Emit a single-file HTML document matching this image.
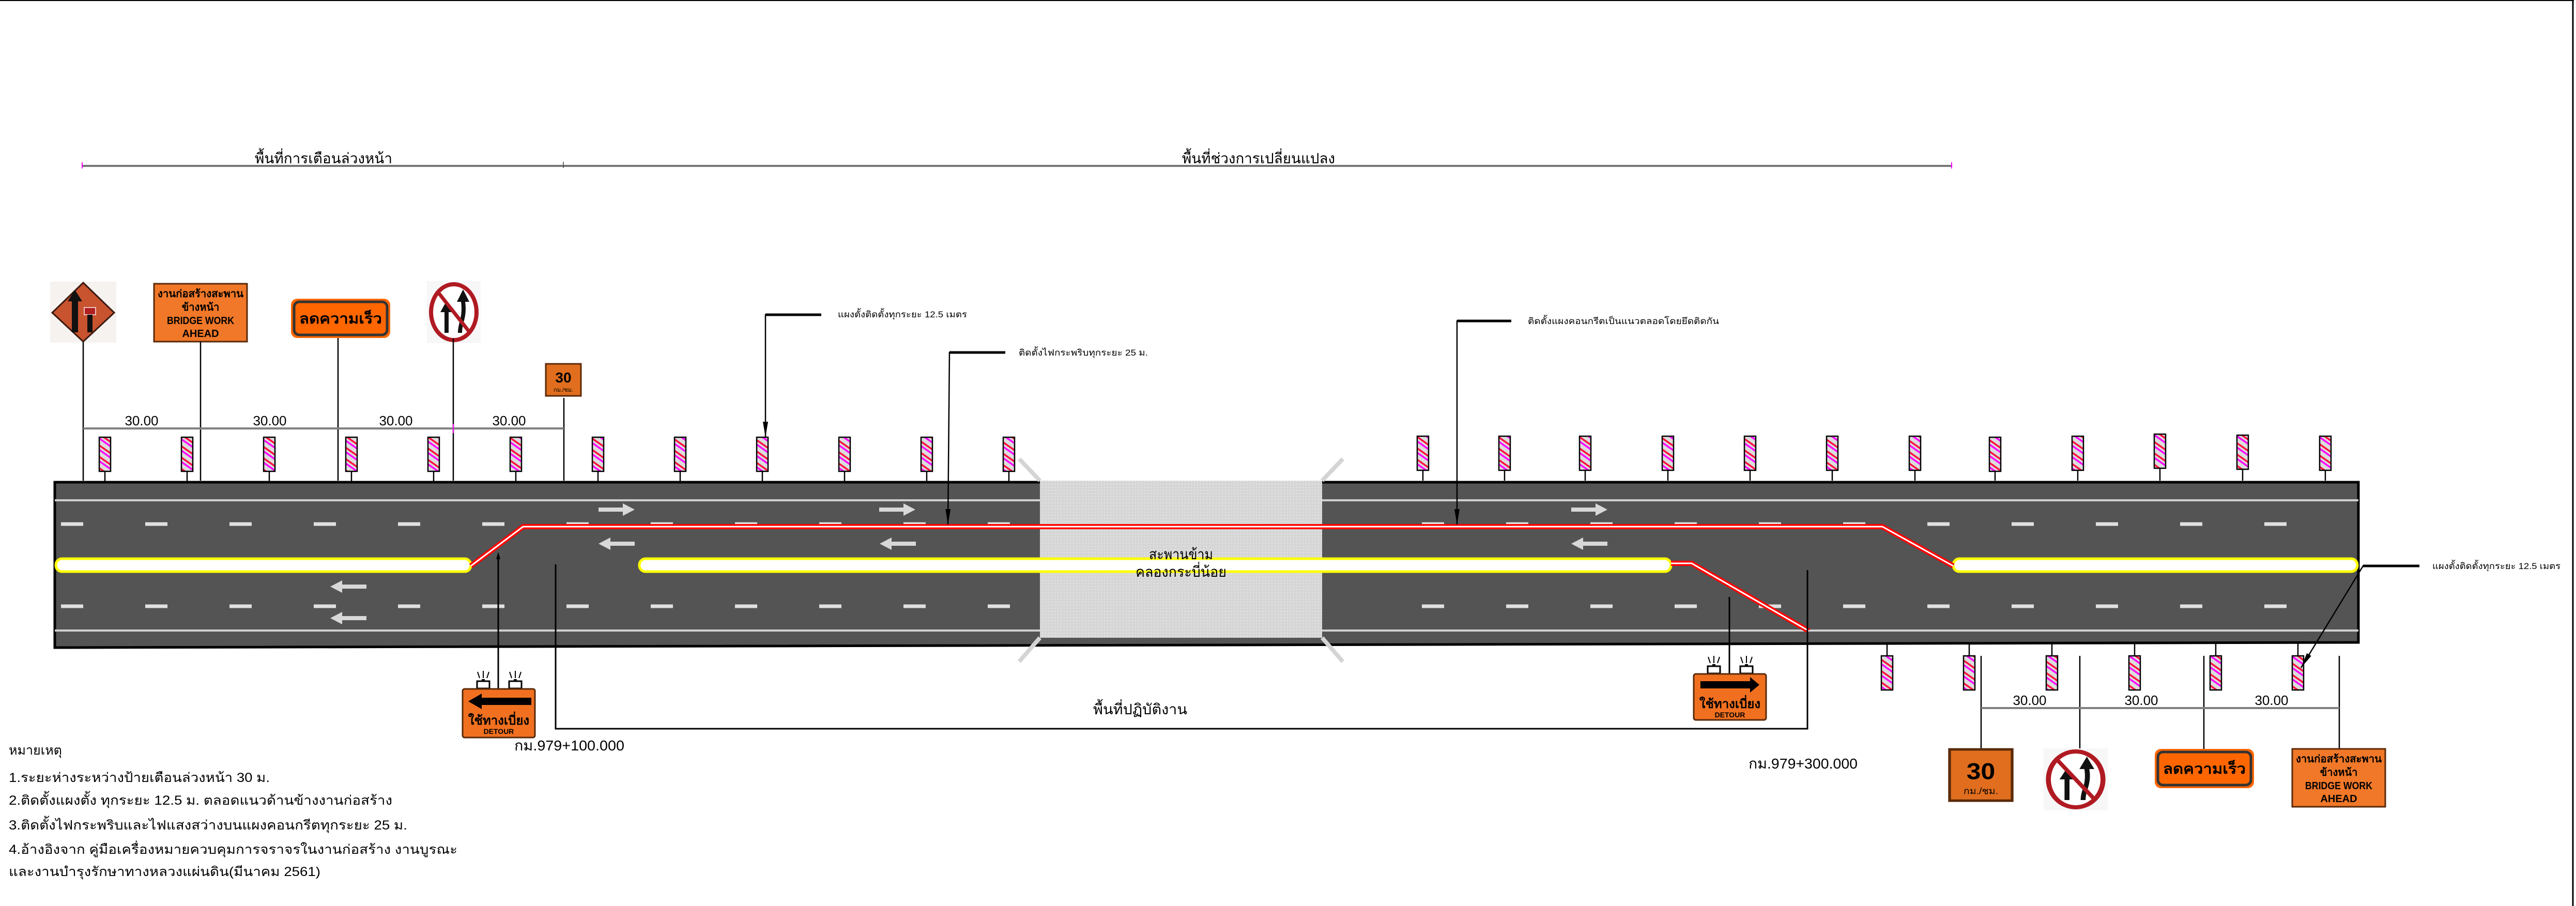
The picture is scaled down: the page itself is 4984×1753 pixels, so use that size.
<!DOCTYPE html>
<html><head><meta charset="utf-8"><style>
html,body{margin:0;padding:0;background:#fff;}
svg{display:block;}
text{font-family:"Liberation Sans","Noto Sans CJK SC",sans-serif;}
</style></head><body>
<svg width="4984" height="1753" viewBox="0 0 4984 1753" xmlns="http://www.w3.org/2000/svg">
<defs>
<pattern id="st" width="18" height="18" patternUnits="userSpaceOnUse" patternTransform="rotate(35)">
<rect width="18" height="18" fill="#dcdcdc"/>
<rect x="0" y="0" width="18" height="3.5" fill="#ff1040"/>
<rect x="0" y="7" width="18" height="3.5" fill="#ff00ff"/>
</pattern>
<pattern id="dots" width="6" height="6" patternUnits="userSpaceOnUse">
<rect width="6" height="6" fill="#d6d6d6"/>
<rect width="2" height="2" fill="#e6e6e6"/>
</pattern>
<marker id="ah" markerWidth="32" markerHeight="10" refX="30" refY="5" orient="auto" markerUnits="userSpaceOnUse">
<path d="M0,0 L30,5 L0,10 Z" fill="#000"/>
</marker>
<g id="diamond">
<rect x="-64" y="-58" width="128" height="118" fill="#f6f2f0"/>
<polygon points="0,-56 60,2 0,58 -60,2" fill="#c8532f" stroke="#3a1a10" stroke-width="3"/>
<path d="M-22,40 L-22,-20 L-30,-20 L-16,-42 L-2,-20 L-10,-20 L-10,40 Z" fill="#111"/>
<rect x="2" y="-8" width="22" height="14" fill="#b02020" stroke="#f0c0c0" stroke-width="2"/>
<rect x="8" y="6" width="10" height="34" fill="#111"/>
</g>
<g id="bridge">
<rect x="0" y="0" width="180" height="112" fill="#f07828" stroke="#5a2a0a" stroke-width="3"/>
<text x="90" y="26" font-size="20" text-anchor="middle" font-weight="bold" textLength="166" lengthAdjust="spacingAndGlyphs">งานก่อสร้างสะพาน</text>
<text x="90" y="52" font-size="20" text-anchor="middle" font-weight="bold">ข้างหน้า</text>
<text x="90" y="78" font-size="20" text-anchor="middle" font-weight="bold" textLength="130" lengthAdjust="spacingAndGlyphs">BRIDGE WORK</text>
<text x="90" y="103" font-size="20" text-anchor="middle" font-weight="bold">AHEAD</text>
</g>
<g id="slow">
<rect x="0" y="0" width="192" height="76" rx="12" fill="#ff6600"/>
<rect x="6" y="6" width="180" height="64" rx="10" fill="#ff6600" stroke="#333" stroke-width="5"/>
<text x="96" y="48" font-size="28" text-anchor="middle" font-weight="bold" textLength="160" lengthAdjust="spacingAndGlyphs">ลดความเร็ว</text>
</g>
<g id="noov">
<rect x="-52" y="-60" width="104" height="120" fill="#f7f7f7"/>
<ellipse cx="0" cy="0" rx="44" ry="54" fill="#fff" stroke="#b01a22" stroke-width="8"/>
<path d="M-18,40 L-18,0 L-26,0 L-14,-22 L-2,0 L-10,0 L-10,40 Z" fill="#111"/>
<path d="M8,40 C8,20 18,10 14,-20 L6,-20 L18,-44 L30,-20 L22,-20 C26,10 16,20 16,40 Z" fill="#111"/>
<line x1="-30" y1="-38" x2="30" y2="38" stroke="#b01a22" stroke-width="7"/>
</g>
<g id="s30">
<rect x="0" y="0" width="68" height="62" fill="#e06e1e" stroke="#5a2a0a" stroke-width="3"/>
<text x="34" y="36" font-size="28" font-weight="bold" text-anchor="middle">30</text>
<text x="34" y="54" font-size="11" text-anchor="middle">กม./ชม.</text>
</g>
<g id="light">
<line x1="-7" y1="-2" x2="-11" y2="-14" stroke="#000" stroke-width="2"/>
<line x1="0" y1="-2" x2="0" y2="-16" stroke="#000" stroke-width="2"/>
<line x1="7" y1="-2" x2="11" y2="-14" stroke="#000" stroke-width="2"/>
<rect x="-3" y="0" width="6" height="4" fill="#000"/>
<rect x="-12" y="4" width="24" height="14" fill="#fff" stroke="#000" stroke-width="3"/>
</g>
</defs>

<!-- frame -->
<line x1="0" y1="1" x2="4980" y2="1" stroke="#000" stroke-width="2"/>
<line x1="4978" y1="0" x2="4978" y2="1753" stroke="#000" stroke-width="3"/>

<!-- header -->
<line x1="159" y1="321" x2="3776" y2="321" stroke="#777" stroke-width="4"/>
<line x1="1090" y1="313" x2="1090" y2="325" stroke="#444" stroke-width="1.5"/>
<line x1="159" y1="314" x2="159" y2="326" stroke="#f0f" stroke-width="2"/>
<line x1="3776" y1="314" x2="3776" y2="326" stroke="#f0f" stroke-width="2"/>
<text x="626" y="316" font-size="28" text-anchor="middle" textLength="266" lengthAdjust="spacingAndGlyphs">พื้นที่การเตือนล่วงหน้า</text>
<text x="2435" y="316" font-size="28" text-anchor="middle" textLength="296" lengthAdjust="spacingAndGlyphs">พื้นที่ช่วงการเปลี่ยนแปลง</text>

<!-- road -->
<polygon points="106,933 4563,933 4563,1243 106,1253" fill="#545454" stroke="#000" stroke-width="5"/>
<line x1="106" y1="968" x2="4563" y2="968" stroke="#d0d0d0" stroke-width="4"/>
<line x1="106" y1="1220" x2="4563" y2="1220" stroke="#d0d0d0" stroke-width="4"/>
<line x1="118" y1="1014" x2="2012" y2="1014" stroke="#e0e0e0" stroke-width="7" stroke-dasharray="43,120"/>
<line x1="118" y1="1173" x2="2012" y2="1173" stroke="#e0e0e0" stroke-width="7" stroke-dasharray="43,120"/>
<line x1="2751" y1="1014" x2="4450" y2="1014" stroke="#e0e0e0" stroke-width="7" stroke-dasharray="43,120"/>
<line x1="2751" y1="1173" x2="4450" y2="1173" stroke="#e0e0e0" stroke-width="7" stroke-dasharray="43,120"/>

<!-- bridge -->
<rect x="2012" y="930" width="546" height="304" fill="url(#dots)"/>
<line x1="2012" y1="930" x2="1972" y2="888" stroke="#d4d4d4" stroke-width="8"/>
<line x1="2558" y1="930" x2="2598" y2="888" stroke="#d4d4d4" stroke-width="8"/>
<line x1="2012" y1="1234" x2="1972" y2="1280" stroke="#d4d4d4" stroke-width="8"/>
<line x1="2558" y1="1234" x2="2598" y2="1280" stroke="#d4d4d4" stroke-width="8"/>

<!-- medians -->
<rect x="108" y="1081" width="803" height="25" rx="12" fill="#fff" stroke="#ffff00" stroke-width="5"/>
<rect x="1237" y="1081" width="1996" height="25" rx="12" fill="#fff" stroke="#ffff00" stroke-width="5"/>
<rect x="3779" y="1081" width="782" height="25" rx="12" fill="#fff" stroke="#ffff00" stroke-width="5"/>

<!-- arrows -->
<g fill="#d8d8d8">
<path d="M1158,982 L1205,982 L1205,974 L1228,986 L1205,998 L1205,990 L1158,990 Z"/>
<path d="M1701,982 L1748,982 L1748,974 L1771,986 L1748,998 L1748,990 L1701,990 Z"/>
<path d="M3040,982 L3087,982 L3087,974 L3110,986 L3087,998 L3087,990 L3040,990 Z"/>
<path d="M1228,1048 L1181,1048 L1181,1040 L1158,1052 L1181,1064 L1181,1056 L1228,1056 Z"/>
<path d="M1772,1048 L1725,1048 L1725,1040 L1702,1052 L1725,1064 L1725,1056 L1772,1056 Z"/>
<path d="M3110,1048 L3063,1048 L3063,1040 L3040,1052 L3063,1064 L3063,1056 L3110,1056 Z"/>
<path d="M709,1131 L662,1131 L662,1123 L639,1135 L662,1147 L662,1139 L709,1139 Z"/>
<path d="M709,1192 L662,1192 L662,1184 L639,1196 L662,1208 L662,1200 L709,1200 Z"/>
</g>

<!-- red lines -->
<g fill="none" stroke-linejoin="miter">
<polyline points="911,1095 1012,1019 3642,1019 3779,1095" stroke="#ff0000" stroke-width="10"/>
<polyline points="911,1095 1012,1019 3642,1019 3779,1095" stroke="#fff" stroke-width="3"/>
<polyline points="3233,1090 3273,1090 3500,1221" stroke="#ff0000" stroke-width="10"/>
<polyline points="3233,1090 3273,1090 3500,1221" stroke="#fff" stroke-width="3"/>
</g>

<text x="2285" y="1082" font-size="28" text-anchor="middle" textLength="124" lengthAdjust="spacingAndGlyphs">สะพานข้าม</text>
<text x="2285" y="1116" font-size="28" text-anchor="middle" textLength="176" lengthAdjust="spacingAndGlyphs">คลองกระบี่น้อย</text>

<!-- barriers -->
<g stroke="#000" stroke-width="2.5" fill="url(#st)">
<rect x="192" y="846" width="22" height="66"/>
<rect x="351" y="846" width="22" height="66"/><rect x="510" y="846" width="22" height="66"/><rect x="669" y="846" width="22" height="66"/>
<rect x="828" y="846" width="22" height="66"/><rect x="987" y="846" width="22" height="66"/><rect x="1146" y="846" width="22" height="66"/>
<rect x="1305" y="846" width="22" height="66"/><rect x="1464" y="846" width="22" height="66"/><rect x="1623" y="846" width="22" height="66"/>
<rect x="1782" y="846" width="22" height="66"/><rect x="1941" y="846" width="22" height="66"/>
<rect x="2742" y="844" width="22" height="66"/><rect x="2900" y="844" width="22" height="66"/><rect x="3056" y="844" width="22" height="66"/>
<rect x="3216" y="844" width="22" height="66"/><rect x="3375" y="844" width="22" height="66"/><rect x="3534" y="844" width="22" height="66"/>
<rect x="3694" y="844" width="22" height="66"/><rect x="3849" y="846" width="22" height="66"/><rect x="4009" y="844" width="22" height="66"/>
<rect x="4168" y="840" width="22" height="66"/><rect x="4328" y="842" width="22" height="66"/><rect x="4488" y="844" width="22" height="66"/>
<rect x="3640" y="1269" width="22" height="66"/><rect x="3799" y="1269" width="22" height="66"/><rect x="3959" y="1269" width="22" height="66"/>
<rect x="4119" y="1269" width="22" height="66"/><rect x="4276" y="1269" width="22" height="66"/><rect x="4435" y="1269" width="22" height="66"/>
</g>
<g stroke="#000" stroke-width="2.5">
<path d="M203,912V931M362,912V931M521,912V931M680,912V931M839,912V931M998,912V931M1157,912V931M1316,912V931M1475,912V931M1634,912V931M1793,912V931M1952,912V931"/>
<path d="M2753,910V930M2911,910V930M3067,910V930M3227,910V930M3386,910V930M3545,910V930M3705,910V930M3860,912V930M4020,910V930M4179,906V930M4339,908V930M4499,910V930"/>
<path d="M3651,1245V1269M3810,1245V1269M3970,1245V1269M4130,1245V1269M4287,1245V1269M4446,1245V1269"/>
</g>

<!-- top signs -->
<use href="#diamond" x="161" y="603"/>
<use href="#bridge" x="298" y="549"/>
<use href="#slow" x="563" y="578"/>
<use href="#noov" x="878" y="604"/>
<use href="#s30" x="1056" y="704"/>
<g stroke="#000" stroke-width="2.5">
<line x1="161" y1="662" x2="161" y2="930"/>
<line x1="388" y1="661" x2="388" y2="930"/>
<line x1="654" y1="654" x2="654" y2="930"/>
<line x1="877" y1="655" x2="877" y2="930"/>
<line x1="1091" y1="770" x2="1091" y2="930"/>
</g>
<line x1="161" y1="829" x2="1091" y2="829" stroke="#808080" stroke-width="4"/>
<line x1="877" y1="820" x2="877" y2="838" stroke="#f0f" stroke-width="2"/>
<g font-size="26" text-anchor="middle">
<text x="274" y="823">30.00</text><text x="522" y="823">30.00</text><text x="766" y="823">30.00</text><text x="985" y="823">30.00</text>
</g>

<!-- callouts -->
<g stroke="#000" stroke-width="2.5" fill="none">
<polyline points="1589,609 1481,609 1481,846" marker-end="url(#ah)"/>
<polyline points="1945,682 1837,682 1834,1015" marker-end="url(#ah)"/>
<polyline points="2924,621 2819,621 2819,1015" marker-end="url(#ah)"/>
<polyline points="4681,1095 4572,1095 4452,1292" marker-end="url(#ah)"/>
</g>
<g stroke="#000" stroke-width="5"><line x1="1481" y1="609" x2="1589" y2="609"/><line x1="1837" y1="682" x2="1945" y2="682"/><line x1="2819" y1="621" x2="2924" y2="621"/><line x1="4572" y1="1095" x2="4681" y2="1095"/></g>
<g font-size="17">
<text x="1621" y="614" textLength="250" lengthAdjust="spacingAndGlyphs">แผงตั้งติดตั้งทุกระยะ 12.5 เมตร</text>
<text x="1971" y="688" textLength="250" lengthAdjust="spacingAndGlyphs">ติดตั้งไฟกระพริบทุกระยะ 25 ม.</text>
<text x="2956" y="627" textLength="370" lengthAdjust="spacingAndGlyphs">ติดตั้งแผงคอนกรีตเป็นแนวตลอดโดยยึดติดกัน</text>
<text x="4706" y="1101" textLength="248" lengthAdjust="spacingAndGlyphs">แผงตั้งติดตั้งทุกระยะ 12.5 เมตร</text>
</g>

<!-- work area bracket -->
<polyline points="1075,1092 1075,1410 3497,1410 3497,1103" fill="none" stroke="#000" stroke-width="3"/>
<text x="2206" y="1382" font-size="28" text-anchor="middle" textLength="182" lengthAdjust="spacingAndGlyphs">พื้นที่ปฏิบัติงาน</text>

<!-- detour signs -->
<line x1="964" y1="1074" x2="964" y2="1333" stroke="#000" stroke-width="3"/>
<path d="M964,1068 l-4,14 h8 z" fill="#000"/>
<line x1="3346" y1="1155" x2="3346" y2="1304" stroke="#000" stroke-width="3"/>
<use href="#light" x="935" y="1314"/><use href="#light" x="997" y="1314"/>
<g>
<rect x="895" y="1333" width="140" height="94" rx="4" fill="#f07020" stroke="#5a2a0a" stroke-width="3"/>
<path d="M1028,1350 L932,1350 L932,1342 L906,1357 L932,1372 L932,1364 L1028,1364 Z" fill="#000"/>
<text x="965" y="1402" font-size="24" font-weight="bold" text-anchor="middle">ใช้ทางเบี่ยง</text>
<text x="965" y="1420" font-size="14" font-weight="bold" text-anchor="middle">DETOUR</text>
</g>
<use href="#light" x="3316" y="1285"/><use href="#light" x="3379" y="1285"/>
<g>
<rect x="3277" y="1304" width="140" height="89" rx="4" fill="#f07020" stroke="#5a2a0a" stroke-width="3"/>
<path d="M3290,1318 L3386,1318 L3386,1310 L3404,1325 L3386,1340 L3386,1332 L3290,1332 Z" fill="#000"/>
<text x="3347" y="1370" font-size="24" font-weight="bold" text-anchor="middle">ใช้ทางเบี่ยง</text>
<text x="3347" y="1388" font-size="14" font-weight="bold" text-anchor="middle">DETOUR</text>
</g>

<text x="995" y="1452" font-size="28" textLength="213" lengthAdjust="spacingAndGlyphs">กม.979+100.000</text>
<text x="3383" y="1487" font-size="28" textLength="211" lengthAdjust="spacingAndGlyphs">กม.979+300.000</text>

<!-- bottom signs -->
<g stroke="#000" stroke-width="2.5">
<line x1="3833" y1="1269" x2="3833" y2="1449"/>
<line x1="4024" y1="1269" x2="4024" y2="1449"/>
<line x1="4264" y1="1269" x2="4264" y2="1449"/>
<line x1="4526" y1="1269" x2="4526" y2="1449"/>
</g>
<line x1="3833" y1="1370" x2="4526" y2="1370" stroke="#808080" stroke-width="4"/>
<g font-size="26" text-anchor="middle">
<text x="3927" y="1364">30.00</text><text x="4143" y="1364">30.00</text><text x="4395" y="1364">30.00</text>
</g>
<g transform="translate(3772,1450) scale(1.78,1.6)"><use href="#s30"/></g>
<g transform="translate(4016,1508) scale(1.2,1.0)"><use href="#noov"/></g>
<use href="#slow" x="4169" y="1449"/>
<use href="#bridge" x="4435" y="1449"/>

<!-- notes -->
<g font-size="25">
<text x="17" y="1460">หมายเหตุ</text>
<text x="17" y="1513" textLength="505" lengthAdjust="spacingAndGlyphs">1.ระยะห่างระหว่างป้ายเตือนล่วงหน้า 30 ม.</text>
<text x="17" y="1557" textLength="742" lengthAdjust="spacingAndGlyphs">2.ติดตั้งแผงตั้ง ทุกระยะ 12.5 ม. ตลอดแนวด้านข้างงานก่อสร้าง</text>
<text x="17" y="1605" textLength="771" lengthAdjust="spacingAndGlyphs">3.ติดตั้งไฟกระพริบและไฟแสงสว่างบนแผงคอนกรีตทุกระยะ 25 ม.</text>
<text x="17" y="1652" textLength="868" lengthAdjust="spacingAndGlyphs">4.อ้างอิงจาก คู่มือเครื่องหมายควบคุมการจราจรในงานก่อสร้าง  งานบูรณะ</text>
<text x="17" y="1695" textLength="603" lengthAdjust="spacingAndGlyphs">และงานบำรุงรักษาทางหลวงแผ่นดิน(มีนาคม 2561)</text>
</g>
</svg>
</body></html>
